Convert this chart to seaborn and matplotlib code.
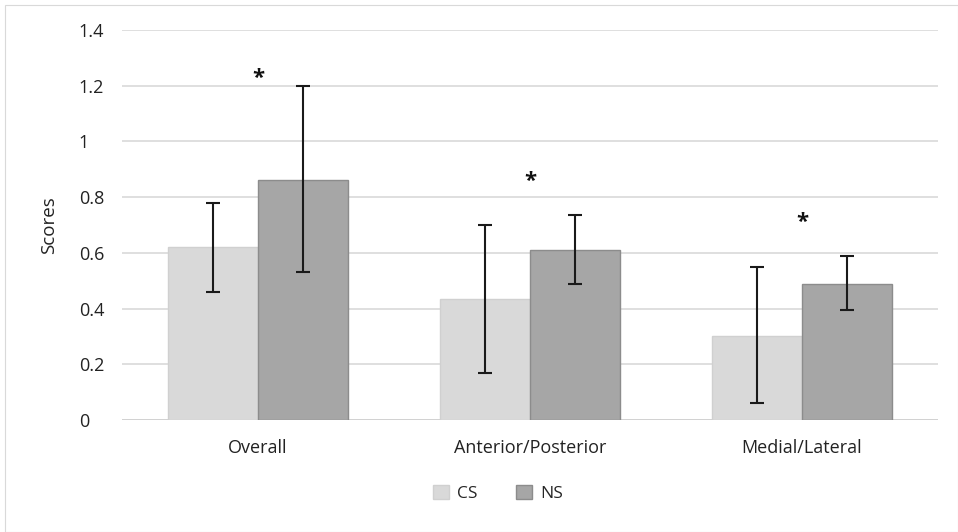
import matplotlib
matplotlib.use("Agg")
import matplotlib.pyplot as plt
import seaborn as sns
import pandas as pd
import numpy as np
from matplotlib.patches import Rectangle, Patch

categories = ["Overall", "Anterior/Posterior", "Medial/Lateral"]
groups = ["CS", "NS"]
cs_values = [0.62, 0.435, 0.30]
ns_values = [0.86, 0.61, 0.49]
cs_err_low = [0.46, 0.17, 0.06]
cs_err_high = [0.78, 0.70, 0.55]
ns_err_low = [0.53, 0.49, 0.395]
ns_err_high = [1.20, 0.735, 0.59]
star_y = [1.225, 0.855, 0.71]
yticks = [0, 0.2, 0.4, 0.6, 0.8, 1, 1.2, 1.4]
ytick_labels = ["0", "0.2", "0.4", "0.6", "0.8", "1", "1.2", "1.4"]

sns.set_theme(style="white")
plt.rcParams["font.family"] = ["Open Sans", "DejaVu Sans"]

df = pd.DataFrame({
    "category": categories * 2,
    "group": ["CS"] * 3 + ["NS"] * 3,
    "value": cs_values + ns_values,
})

fig = plt.figure(figsize=(9.58, 5.32), dpi=100)
ax = fig.add_axes([0.1273, 0.2105, 0.8517, 0.7331])

palette = {"CS": "#d9d9d9", "NS": "#a6a6a6"}
sns.barplot(data=df, x="category", y="value", hue="group", order=categories,
            hue_order=groups, palette=palette, width=0.66, ax=ax,
            saturation=1, legend=False, errorbar=None)

edge = {"CS": "#d0d0d0", "NS": "#8c8c8c"}
for cont, g in zip(ax.containers, groups):
    for p in cont:
        p.set_edgecolor(edge[g])
        p.set_linewidth(1.0)
        p.set_zorder(2)

lows = {"CS": cs_err_low, "NS": ns_err_low}
highs = {"CS": cs_err_high, "NS": ns_err_high}
vals = {"CS": cs_values, "NS": ns_values}
for cont, g in zip(ax.containers, groups):
    xs = [p.get_x() + p.get_width() / 2 for p in cont]
    v = np.array(vals[g])
    lo = v - np.array(lows[g])
    hi = np.array(highs[g]) - v
    ax.errorbar(xs, v, yerr=[lo, hi], fmt="none", ecolor="#1a1a1a",
                elinewidth=1.5, capsize=5, capthick=1.5, zorder=3)

for i, sy in enumerate(star_y):
    ax.text(i, sy, "*", ha="center", va="center", fontsize=16,
            fontweight="bold", color="#111111")

ax.set_ylim(0, 1.4)
ax.set_xlim(-0.5, 2.5)
ax.set_yticks(yticks)
ax.set_yticklabels(ytick_labels)
ax.yaxis.grid(True, color="#d9d9d9", linewidth=1.2)
ax.set_axisbelow(True)
for s in ax.spines.values():
    s.set_visible(False)
ax.axhline(0, color="#d0d0d0", linewidth=1.2, zorder=1)
ax.tick_params(axis="both", length=0, labelsize=13, colors="#222222")
ax.tick_params(axis="y", pad=31)
ax.tick_params(axis="x", pad=14)
ax.set_xlabel("")
ax.set_ylabel("Scores", fontsize=13.5, color="#222222", labelpad=15)
for lbl in ax.get_yticklabels():
    lbl.set_horizontalalignment("left")

handles = [Patch(facecolor=palette[g], edgecolor=edge[g]) for g in groups]
fig.legend(handles, groups, loc="center", bbox_to_anchor=(0.52, 0.073),
           ncol=2, frameon=False, fontsize=12.5, handlelength=0.9,
           handleheight=0.9, columnspacing=2.2, handletextpad=0.5)

fig.patches.append(Rectangle((0.005, 0.0), 0.995, 0.99, transform=fig.transFigure,
                             fill=False, edgecolor="#d9d9d9", linewidth=0.8))

fig.savefig("out.png", dpi=100)
